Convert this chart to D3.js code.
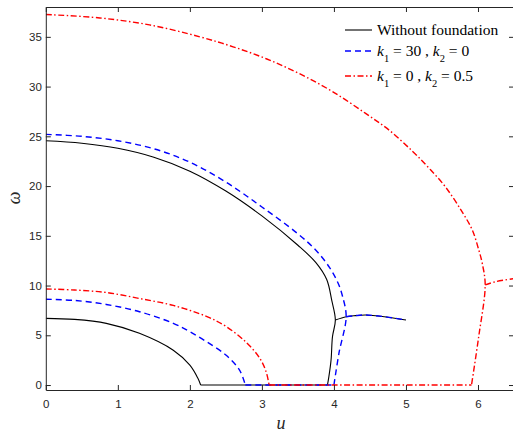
<!DOCTYPE html>
<html>
<head>
<meta charset="utf-8">
<script src="https://cdn.jsdelivr.net/npm/d3@7"></script>
<style>
  body { margin: 0; background: #fff; }
  svg { display: block; }
</style>
</head>
<body>
<script>
// ---- data (u, omega) ----
// without foundation
var uBlackUpper = [0, 0.5, 1.0, 1.5, 2.0, 2.5, 3.0, 3.5, 3.75, 3.9, 3.97, 4.02, 3.98, 3.96, 3.93, 3.91];
var wBlackUpper = [24.55, 24.3, 23.8, 22.9, 21.5, 19.5, 17.0, 14.05, 12.3, 10.6, 8.5, 6.54, 4.86, 2.5, 0.84, 0];
var uBlackRight = [4.02, 4.17, 4.3, 4.44, 4.7, 5.0];
var wBlackRight = [6.54, 6.87, 6.98, 7.04, 6.87, 6.54];
var uBlackLower = [0, 0.4, 0.84, 1.30, 1.77, 2.0, 2.11, 2.15];
var wBlackLower = [6.7, 6.6, 6.2, 5.2, 3.5, 2.0, 0.7, 0];
var uBlackFlat = [2.15, 3.91];
var wBlackFlat = [0, 0];

// k1 = 30, k2 = 0
var uBlueUpper = [0, 0.5, 1.0, 1.5, 2.0, 2.5, 3.0, 3.5, 3.75, 3.94, 4.06, 4.12, 4.17, 4.07, 4.0];
var wBlueUpper = [25.2, 25.0, 24.55, 23.75, 22.4, 20.4, 17.9, 15.2, 13.55, 11.8, 10.2, 8.9, 6.87, 3.2, 0];
var uBlueRight = [4.17, 4.3, 4.44, 4.7, 5.0];
var wBlueRight = [6.87, 6.98, 7.04, 6.87, 6.54];
var uBlueLower = [0, 0.4, 0.84, 1.30, 1.77, 2.0, 2.23, 2.50, 2.69, 2.77];
var wBlueLower = [8.62, 8.5, 8.1, 7.37, 6.2, 5.36, 4.36, 3.02, 1.5, 0];
var uBlueFlat = [2.77, 4.0];
var wBlueFlat = [0, 0];

// k1 = 0, k2 = 0.5
var uRedUpper = [0, 0.75, 1.44, 2.14, 2.60, 3.06, 3.52, 3.98, 4.44, 4.77, 5.09, 5.32, 5.55, 5.78, 5.92, 6.01, 6.06, 6.10, 6.01, 5.91];
var wRedUpper = [37.25, 36.9, 36.2, 35.0, 34.0, 32.8, 31.3, 29.5, 27.3, 25.6, 23.5, 21.8, 19.9, 17.4, 15.6, 13.6, 12.2, 10.06, 4.86, 0];
var uRedRight = [6.10, 6.25, 6.5];
var wRedRight = [10.06, 10.4, 10.7];
var uRedLower = [0, 0.4, 0.84, 1.30, 1.77, 2.23, 2.50, 2.78, 2.97, 3.06, 3.10];
var wRedLower = [9.66, 9.55, 9.3, 8.7, 8.0, 6.9, 5.9, 4.3, 2.7, 1.3, 0];
var uRedFlat = [3.10, 5.91];
var wRedFlat = [0, 0];

var xTicks = [0, 1, 2, 3, 4, 5, 6];
var yTicks = [0, 5, 10, 15, 20, 25, 30, 35];
var legendLabels = ["Without foundation", "k1 = 30 , k2 = 0", "k1 = 0 , k2 = 0.5"];

var series = [
  {color: "#000000", dash: null, width: 1.1,
   parts: [[uBlackUpper, wBlackUpper], [uBlackRight, wBlackRight], [uBlackLower, wBlackLower], [uBlackFlat, wBlackFlat]]},
  {color: "#0000ff", dash: "6,4", width: 1.4,
   parts: [[uBlueUpper, wBlueUpper], [uBlueRight, wBlueRight], [uBlueLower, wBlueLower], [uBlueFlat, wBlueFlat]]},
  {color: "#ff0000", dash: "6,2.5,1.5,2.5", width: 1.4,
   parts: [[uRedUpper, wRedUpper], [uRedRight, wRedRight], [uRedLower, wRedLower], [uRedFlat, wRedFlat]]}
];

var W = 513, H = 434;
var padL = 45.8, padR = 514, padT = 7, padB = 390;

var svg = d3.select("body").append("svg")
            .attr("width", W)
            .attr("height", H);

var x = d3.scaleLinear().domain([0, 6.5]).range([padL, padR]);
var y = d3.scaleLinear().domain([-0.5, 38]).range([padB, padT]);

svg.append("clipPath").attr("id", "plotclip")
   .append("rect")
   .attr("x", padL).attr("y", padT)
   .attr("width", padR - padL).attr("height", padB - padT);

var line = d3.line()
             .curve(d3.curveCatmullRom.alpha(0.5))
             .x(function(d) { return x(d[0]); })
             .y(function(d) { return y(d[1]); });

var plot = svg.append("g").attr("clip-path", "url(#plotclip)");

series.forEach(function(s) {
  s.parts.forEach(function(p) {
    var pts = p[0].map(function(u, i) { return [u, p[1][i]]; });
    plot.append("path")
        .datum(pts)
        .attr("d", line)
        .attr("fill", "none")
        .attr("stroke", s.color)
        .attr("stroke-width", s.width)
        .attr("stroke-dasharray", s.dash)
        .attr("stroke-linejoin", "round");
  });
});

// axes (MATLAB style box, ticks inside)
var axisColor = "#262626";
function styleAxis(g, showText) {
  g.selectAll("path").attr("stroke", axisColor).attr("stroke-width", 1);
  g.selectAll("line").attr("stroke", axisColor).attr("stroke-width", 1);
  g.selectAll("text").attr("fill", axisColor)
   .style("font-family", "'Liberation Sans', Arial, sans-serif")
   .style("font-size", "11.5px");
  if (!showText) g.selectAll("text").remove();
}

svg.append("g").attr("transform", "translate(0," + padB + ")")
   .call(d3.axisBottom(x).tickValues(xTicks).tickFormat(d3.format("d")).tickSize(-5).tickSizeOuter(0).tickPadding(10))
   .call(styleAxis, true);
svg.append("g").attr("transform", "translate(0," + padT + ")")
   .call(d3.axisTop(x).tickValues(xTicks).tickSize(-5).tickSizeOuter(0))
   .call(styleAxis, false);
svg.append("g").attr("transform", "translate(" + padL + ",0)")
   .call(d3.axisLeft(y).tickValues(yTicks).tickFormat(d3.format("d")).tickSize(-5).tickSizeOuter(0).tickPadding(4))
   .call(styleAxis, true);
svg.append("g").attr("transform", "translate(" + padR + ",0)")
   .call(d3.axisRight(y).tickValues(yTicks).tickSize(-5).tickSizeOuter(0))
   .call(styleAxis, false);

svg.selectAll(".domain").attr("fill", "none");

// axis titles
svg.append("text")
   .attr("x", 281)
   .attr("y", 429)
   .attr("text-anchor", "middle")
   .style("font-family", "'Liberation Serif', 'Times New Roman', serif")
   .style("font-style", "italic")
   .style("font-size", "18px")
   .attr("fill", axisColor)
   .text("u");
svg.append("text")
   .attr("transform", "translate(20,198) rotate(-90)")
   .attr("text-anchor", "middle")
   .style("font-family", "'Liberation Serif', 'Times New Roman', serif")
   .style("font-style", "italic")
   .style("font-size", "18px")
   .attr("fill", axisColor)
   .text("\u03c9");

// legend
var legend = svg.append("g")
                .style("font-family", "'Liberation Serif', 'Times New Roman', serif")
                .style("font-size", "15.5px");
var rowY = [30, 51, 76];
series.forEach(function(s, i) {
  legend.append("line")
        .attr("x1", 345).attr("x2", 372)
        .attr("y1", rowY[i]).attr("y2", rowY[i])
        .attr("stroke", s.color)
        .attr("stroke-width", s.width)
        .attr("stroke-dasharray", s.dash);
});

legend.append("text").attr("x", 377).attr("y", 35).attr("fill", "#000").text(legendLabels[0]);

function subLabel(yb, parts) {
  var t = legend.append("text").attr("x", 377).attr("y", yb).attr("fill", "#000");
  t.append("tspan").style("font-style", "italic").text("k");
  t.append("tspan").attr("dy", 6).style("font-size", "10.5px").text(parts[0]);
  t.append("tspan").attr("dy", -6).text(" = " + parts[1] + " , ");
  t.append("tspan").style("font-style", "italic").text("k");
  t.append("tspan").attr("dy", 6).style("font-size", "10.5px").text(parts[2]);
  t.append("tspan").attr("dy", -6).text(" = " + parts[3]);
}
subLabel(56, ["1", "30", "2", "0"]);
subLabel(81, ["1", "0", "2", "0.5"]);
</script>
</body>
</html>
